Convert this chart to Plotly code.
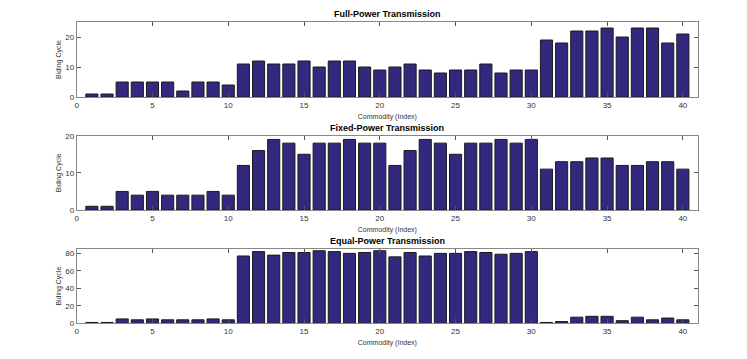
import plotly.graph_objects as go
from plotly.subplots import make_subplots

commodity = list(range(1, 41))

full_power = [1, 1, 5, 5, 5, 5, 2, 5, 5, 4,
              11, 12, 11, 11, 12, 10, 12, 12, 10, 9,
              10, 11, 9, 8, 9, 9, 11, 8, 9, 9,
              19, 18, 22, 22, 23, 20, 23, 23, 18, 21]
fixed_power = [1, 1, 5, 4, 5, 4, 4, 4, 5, 4,
               12, 16, 19, 18, 15, 18, 18, 19, 18, 18,
               12, 16, 19, 18, 15, 18, 18, 19, 18, 19,
               11, 13, 13, 14, 14, 12, 12, 13, 13, 11]
equal_power = [1, 1, 5, 4, 5, 4, 4, 4, 5, 4,
               77, 82, 78, 81, 81, 83, 82, 80, 81, 83,
               76, 81, 77, 80, 80, 82, 81, 79, 80, 82,
               1, 2, 7, 8, 8, 3, 7, 4, 6, 4]

titles = ['Full-Power Transmission', 'Fixed-Power Transmission', 'Equal-Power Transmission']
series = [full_power, fixed_power, equal_power]
y_ranges = [[0, 25], [0, 20], [0, 85]]
y_ticks = [[0, 10, 20], [0, 10, 20], [0, 20, 40, 60, 80]]

BAR = '#32297f'
FONT = 'Liberation Sans, Arial, sans-serif'

fig = make_subplots(rows=3, cols=1)

# page body adds an 8px offset, so domains are shifted to compensate
domains = [[0.7521, 0.961], [0.4373, 0.6443], [0.1217, 0.3287]]

for i, (vals, title) in enumerate(zip(series, titles)):
    r = i + 1
    fig.add_trace(go.Bar(
        x=commodity, y=vals, width=0.8,
        marker=dict(color=BAR, line=dict(color='#1a1a1a', width=1)),
        showlegend=False,
    ), row=r, col=1)
    fig.update_xaxes(
        domain=[0.092, 0.9237], range=[0, 41], automargin=False,
        tickvals=[0, 5, 10, 15, 20, 25, 30, 35, 40],
        ticks='inside', ticklen=4, tickcolor='#555',
        showline=True, linecolor='#888', linewidth=1, mirror='ticks',
        showgrid=False, zeroline=False,
        tickfont=dict(size=8, color='#333', family=FONT),
        title=dict(text='Commodity (Index)', font=dict(size=7, color='#333', family=FONT), standoff=5),
        row=r, col=1)
    fig.update_yaxes(
        domain=domains[i], range=y_ranges[i], tickvals=y_ticks[i], automargin=False,
        ticks='inside', ticklen=4, tickcolor='#555',
        showline=True, linecolor='#888', linewidth=1, mirror='ticks',
        showgrid=False, zeroline=False,
        tickfont=dict(size=8, color='#333', family=FONT),
        title=dict(text='Biding Cycle', font=dict(size=7, color='#333', family=FONT), standoff=2),
        row=r, col=1)
    fig.add_annotation(
        text='<b>' + title + '</b>', x=0.508, y=domains[i][1], xref='paper', yref='paper',
        xanchor='center', yanchor='bottom', yshift=1, showarrow=False,
        font=dict(size=9, color='#000', family=FONT))

fig.update_layout(
    width=747, height=359,
    margin=dict(l=0, r=0, t=0, b=0),
    paper_bgcolor='white', plot_bgcolor='white',
    bargap=0.2,
)

fig.write_html('out.html')
